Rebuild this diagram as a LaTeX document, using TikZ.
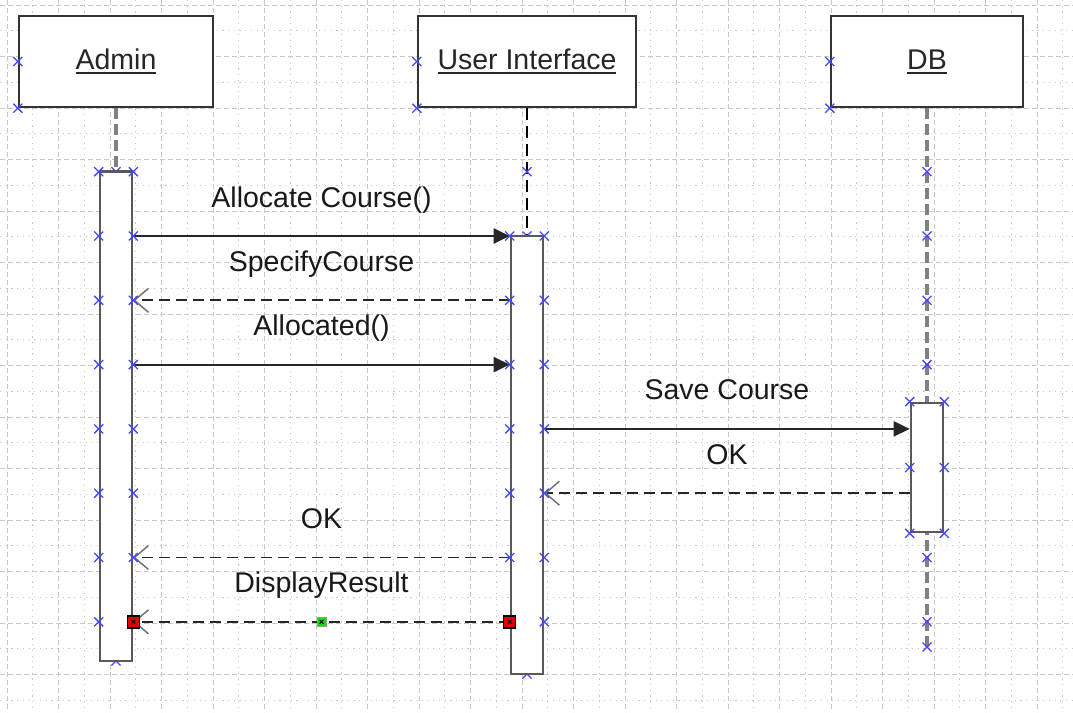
\documentclass[tikz,border=0pt]{standalone}
\usepackage{fontspec}
\setmainfont{Liberation Sans}
\usetikzlibrary{arrows.meta,calc}
\definecolor{mk}{RGB}{70,70,250}
\definecolor{gridc}{RGB}{200,200,200}
\definecolor{selred}{RGB}{225,0,0}
\definecolor{selgreen}{RGB}{0,230,0}
\newcommand\lblfont{\fontsize{28.5}{34}\selectfont}
\newcommand\ulx[1]{\setbox0\hbox{#1}\leavevmode\rlap{\rule[-4.5pt]{\wd0}{1.8pt}}\box0}
\tikzset{
  gmaj/.style={gridc, line width=1pt, dash pattern=on 5pt off 3pt},
  gmin/.style={gridc, line width=1pt, dash pattern=on 1.2pt off 4.5pt},
  objbox/.style={draw=black!80, line width=2.4pt, fill=white, minimum height=91pt,
    inner sep=0pt, font=\lblfont, text height=20.8pt, text depth=4.5pt, text=black!85},
  actbar/.style={draw=black!65, line width=2.6pt, fill=white, minimum width=32pt, inner sep=0pt},
  lifegray/.style={black!50, line width=3.2pt, dash pattern=on 11pt off 5pt},
  lifeblack/.style={black, line width=1.6pt, dash pattern=on 12pt off 6pt},
  msg/.style={draw=black!85, line width=2pt, -{Triangle[length=16pt,width=15pt]}},
  ret/.style={draw=black!85, line width=1.8pt, dash pattern=on 11pt off 6pt,
    -{Straight Barb[length=14pt,width=24pt,line width=1.5pt,color=black!55]}},
  mlabel/.style={midway, anchor=base, yshift=29pt, font=\lblfont, text=black!90},
  selh/.style={draw=black, line width=1.5pt, fill=selred, minimum size=12pt, inner sep=0pt},
  selm/.style={draw=black!40, line width=0.8pt, fill=selgreen, minimum size=9pt, inner sep=0pt},
  xm/.pic={\draw[mk, line width=1.3pt] (-4.5,-4.5) -- (4.5,4.5) (-4.5,4.5) -- (4.5,-4.5);},
  xs/.pic={\draw[black, line width=0.9pt] (-2,-2) -- (2,2) (-2,2) -- (2,-2);}
}
\begin{document}
\begin{tikzpicture}[x=1pt,y=-1pt]
\useasboundingbox (0,0) rectangle (1073,712);
\fill[white] (0,0) rectangle (1073,712);
% grid
\begin{scope}
\clip (0,0) rectangle (1073,712);
\foreach \i in {0,...,20} {
  \draw[gmaj] ({7+51.5*\i},0) -- ({7+51.5*\i},712);
  \draw[gmin] ({32.75+51.5*\i},0) -- ({32.75+51.5*\i},712);
}
\foreach \j in {0,...,13} {
  \draw[gmaj] (0,{5+51.5*\j}) -- (1073,{5+51.5*\j});
  \draw[gmin] (0,{30.75+51.5*\j}) -- (1073,{30.75+51.5*\j});
}
\end{scope}
% rows
\coordinate (r0) at (0,171.7);
\coordinate (r1) at (0,236);
\coordinate (r2) at (0,300.3);
\coordinate (r3) at (0,364.6);
\coordinate (r4) at (0,428.9);
\coordinate (r5) at (0,493.2);
\coordinate (r6) at (0,557.5);
\coordinate (r7) at (0,621.8);
% objects
\node[objbox, minimum width=194pt] (admin) at (116,61.5) {\ulx{Admin}};
\node[objbox, minimum width=218pt] (ui) at (527,61.5) {\ulx{User Interface}};
\node[objbox, minimum width=192pt] (db) at (927,61.5) {\ulx{DB}};
% lifeline end points
\coordinate (aAtop) at (116,171.7);
\coordinate (aUtop) at (527,236);
\coordinate (dbend) at (927,649);
% lifelines
\draw[lifegray] (admin.south) -- (aAtop);
\draw[lifeblack] (ui.south) -- (aUtop);
\draw[lifegray] (db.south) -- (dbend);
% half-hidden markers
\pic at (116,171.7) {xm};
\pic at (116,661) {xm};
\pic at (527,236) {xm};
\pic at (527,674) {xm};
% activation bars
\node[actbar, minimum height=489.3pt] (aA) at (116,416.35) {};
\node[actbar, minimum height=438pt] (aU) at (527,455) {};
\node[actbar, minimum height=129pt] (aD) at (927,467.5) {};
% messages
\draw[msg] (aA.east |- r1) -- (aU.west |- r1) node[mlabel] {Allocate Course()};
\draw[ret] (aU.west |- r2) -- (aA.east |- r2) node[mlabel] {SpecifyCourse};
\draw[msg] (aA.east |- r3) -- (aU.west |- r3) node[mlabel] {Allocated()};
\draw[msg] (aU.east |- r4) -- (aD.west |- r4) node[mlabel] {Save Course};
\draw[ret] (aD.west |- r5) -- (aU.east |- r5) node[mlabel] {OK};
\draw[ret] (aU.west |- r6) -- (aA.east |- r6) node[mlabel] {OK};
\draw[ret] (aU.west |- r7) -- (aA.east |- r7) node[mlabel] {DisplayResult};
% markers on object boxes
\foreach \o in {admin,ui,db} {
  \pic at (\o.west) {xm};
  \pic at (\o.south west) {xm};
}
% markers on admin activation
\foreach \k in {0,...,7} { \pic at (aA.west |- r\k) {xm}; }
\foreach \k in {0,...,6} { \pic at (aA.east |- r\k) {xm}; }
% markers on UI
\pic at (ui.south |- r0) {xm};
\foreach \k in {1,...,6} { \pic at (aU.west |- r\k) {xm}; \pic at (aU.east |- r\k) {xm}; }
\pic at (aU.east |- r7) {xm};
% markers on DB
\foreach \k in {0,...,3} { \pic at (db.south |- r\k) {xm}; }
\foreach \a in {north west,north east,west,east,south west,south east} { \pic at (aD.\a) {xm}; }
\pic at (db.south |- r6) {xm};
\pic at (db.south |- r7) {xm};
\pic at (927,647) {xm};
% selection handles
\node[selh] (h1) at (aA.east |- r7) {};
\node[selh] (h2) at (aU.west |- r7) {};
\node[selm] (h3) at ($(h1)!0.5!(h2)$) {};
\pic at (h1) {xs};
\pic at (h2) {xs};
\pic at (h3) {xs};
\end{tikzpicture}
\end{document}
